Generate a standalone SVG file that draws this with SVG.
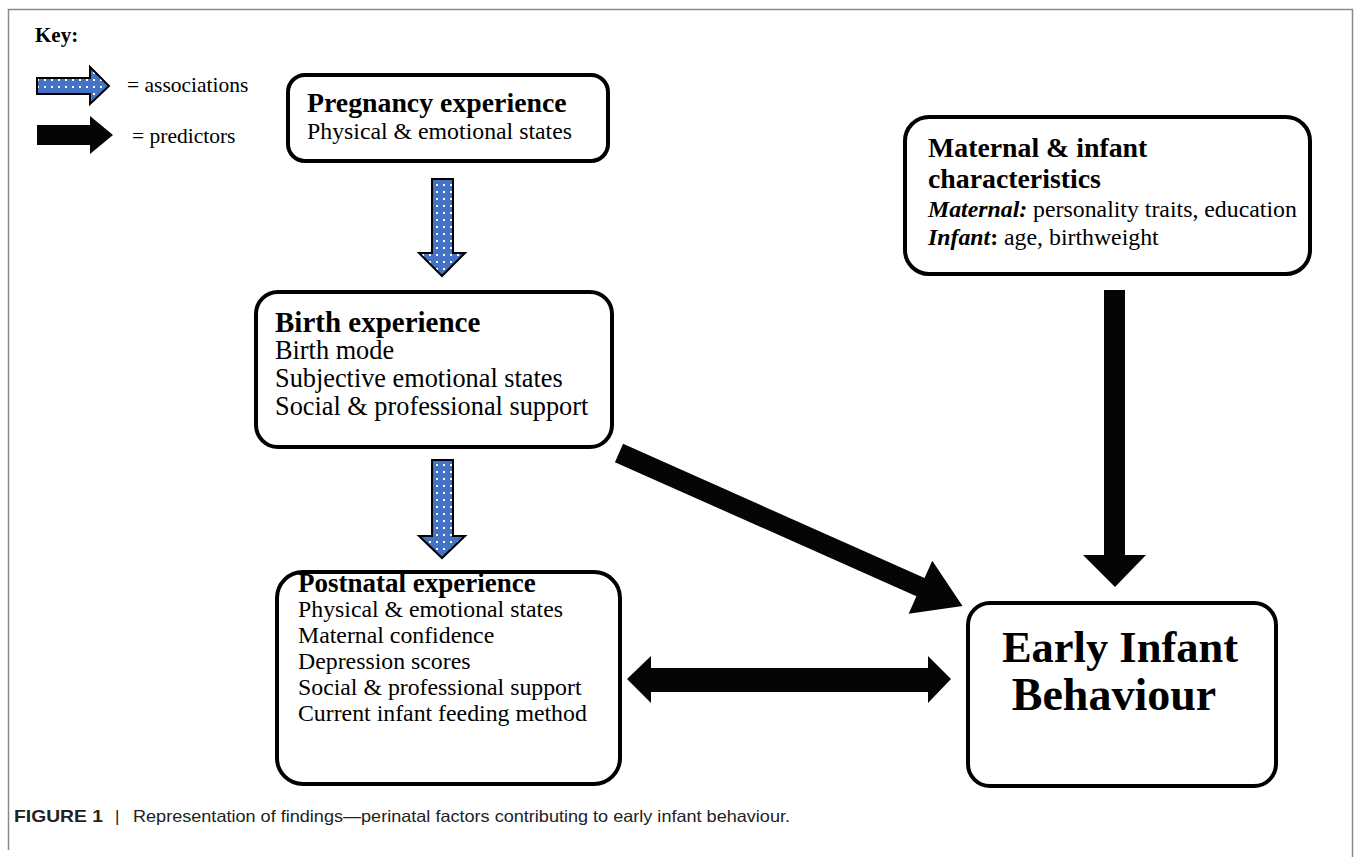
<svg xmlns="http://www.w3.org/2000/svg" width="1355" height="857" viewBox="0 0 1355 857">
<defs>
<pattern id="dots" width="7" height="7" patternUnits="userSpaceOnUse">
<rect width="7" height="7" fill="#4472C4"/>
<rect x="2" y="2" width="2" height="2" fill="#ffffff"/>
</pattern>
<style>
.box{fill:#fff;stroke:#000;stroke-width:4}
.t{font-family:"Liberation Serif","Times New Roman",serif;fill:#000}
.h{font-size:27.8px;font-weight:bold}
.b{font-size:23.8px}
.blue{fill:url(#dots);stroke:#000;stroke-width:2;stroke-linejoin:miter}
.blk{fill:#050505}
</style>
</defs>
<rect width="1355" height="857" fill="#fff"/>
<path d="M8.5 850 V9.5 H1352.5 V857" fill="none" stroke="#8a8a8a" stroke-width="1.5"/>

<g id="key">
<text class="t" x="35" y="42" font-size="21" font-weight="bold">Key:</text>
<polygon class="blue" points="37,78 90,78 90,67 109,86 90,104 90,94 37,94"/>
<text class="t" x="127" y="92" font-size="21.5">= associations</text>
<polygon class="blk" points="37,125 90,125 90,116 113,135 90,154 90,145 37,145"/>
<text class="t" x="132" y="143" font-size="21.5">= predictors</text>
</g>

<g id="connectors">
<polygon class="blue" points="432,179 453,179 453,253 465,253 442,276 419,253 432,253"/>
<polygon class="blue" points="432,460 453,460 453,536 465,536 442,558 419,536 432,536"/>
<polygon class="blk" transform="translate(619,453) rotate(24)" points="0,-10 330,-10 330,-29 376,0 330,29 330,10 0,10"/>
<polygon class="blk" points="1104,290 1125,290 1125,555 1146,555 1115,587 1083,555 1104,555"/>
<polygon class="blk" points="627,679 651,656 651,668 928,668 928,656 951,679 928,703 928,692 651,692 651,703"/>
</g>

<g id="pregnancy">
<rect class="box" x="288" y="75" width="320" height="86" rx="17"/>
<text class="t h" x="307" y="112">Pregnancy experience</text>
<text class="t b" x="307" y="139">Physical &amp; emotional states</text>
</g>

<g id="birth">
<rect class="box" x="256" y="292" width="356" height="155" rx="22"/>
<text class="t" x="275" y="332" font-size="29px" font-weight="bold">Birth experience</text>
<text class="t" x="275" y="359" font-size="26.3px">Birth mode</text>
<text class="t" x="275" y="387" font-size="26.3px">Subjective emotional states</text>
<text class="t" x="275" y="415" font-size="26.3px">Social &amp; professional support</text>
</g>

<g id="postnatal">
<rect class="box" x="277" y="572" width="343" height="212" rx="26"/>
<text class="t" x="298" y="592" font-size="27px" font-weight="bold">Postnatal experience</text>
<text class="t b" x="298" y="617">Physical &amp; emotional states</text>
<text class="t b" x="298" y="643">Maternal confidence</text>
<text class="t b" x="298" y="669">Depression scores</text>
<text class="t b" x="298" y="695">Social &amp; professional support</text>
<text class="t b" x="298" y="721">Current infant feeding method</text>
</g>

<g id="maternal">
<rect class="box" x="905" y="117" width="405" height="157" rx="24"/>
<text class="t h" x="928" y="157">Maternal &amp; infant</text>
<text class="t h" x="928" y="188">characteristics</text>
<text class="t b" x="928" y="217"><tspan font-weight="bold" font-style="italic">Maternal:</tspan> personality traits, education</text>
<text class="t b" x="928" y="245"><tspan font-weight="bold" font-style="italic">Infant</tspan><tspan font-weight="bold">:</tspan> age, birthweight</text>
</g>

<g id="early">
<rect class="box" x="968" y="603" width="308" height="183" rx="22"/>
<text class="t" x="1120" y="662" font-size="44.5" font-weight="bold" text-anchor="middle">Early Infant</text>
<text class="t" x="1114" y="710" font-size="46" font-weight="bold" text-anchor="middle">Behaviour</text>
</g>

<g id="caption">
<text x="14" y="822" font-family="Liberation Sans, Arial, sans-serif" font-size="16.5" fill="#222"><tspan font-weight="bold" textLength="89" lengthAdjust="spacingAndGlyphs">FIGURE 1</tspan></text>
<text x="115" y="822" font-family="Liberation Sans, Arial, sans-serif" font-size="17" fill="#222">|</text>
<text x="133" y="822" font-family="Liberation Sans, Arial, sans-serif" font-size="16.5" fill="#222" textLength="657" lengthAdjust="spacingAndGlyphs">Representation of findings—perinatal factors contributing to early infant behaviour.</text>
</g>
</svg>
